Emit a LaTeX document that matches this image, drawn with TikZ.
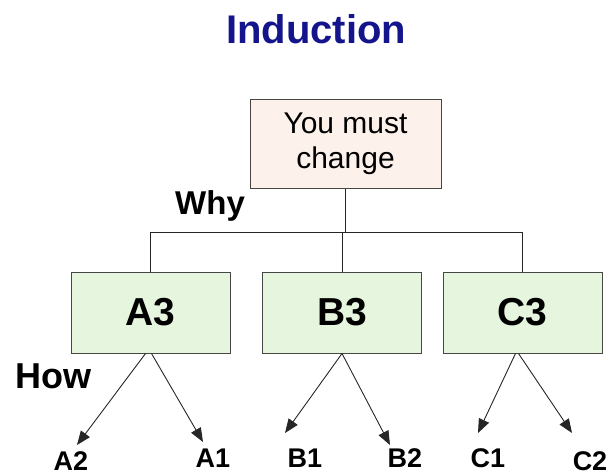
\documentclass[tikz,border=0pt]{standalone}
\usepackage{fontspec}
\setmainfont{Liberation Sans}
\usetikzlibrary{arrows.meta}
\definecolor{titleblue}{RGB}{20,20,140}
\definecolor{topfill}{RGB}{253,241,236}
\definecolor{boxfill}{RGB}{230,245,222}
\definecolor{edgegray}{RGB}{70,70,70}
\tikzset{
  topbox/.style={draw=edgegray, line width=1pt, fill=topfill, minimum width=191pt, minimum height=89pt, inner sep=0pt, align=center, font=\fontsize{30}{35}\selectfont},
  midbox/.style={draw=edgegray, line width=1pt, fill=boxfill, minimum width=159pt, minimum height=81pt, inner sep=0pt, font=\fontsize{39}{44}\selectfont\bfseries},
  leaf/.style={anchor=base, inner sep=0pt, font=\fontsize{27}{30}\selectfont\bfseries},
  link/.style={draw=black!85, line width=0.9pt},
  arr/.style={link, -{Triangle[length=14pt, width=11pt]}}
}
\begin{document}
\begin{tikzpicture}[x=1pt, y=-1pt]
\useasboundingbox (0,0) rectangle (610,475);
\node[anchor=base, inner sep=0pt, text=titleblue, font=\fontsize{40}{44}\selectfont\bfseries] (title) at (316,43) {Induction};
\node[topbox] (top) at (345.5,143.5) {You must\\change};
\node[anchor=base west, inner sep=0pt, font=\fontsize{33}{36}\selectfont\bfseries] (why) at (175,214) {Why};
\node[midbox] (A3) at (150.5,312.5) {A3};
\node[midbox] (B3) at (342,312.5) {B3};
\node[midbox] (C3) at (522.5,312.5) {C3};
\coordinate (hl) at (150.5,232);
\coordinate (hm) at (345.5,232);
\coordinate (hr) at (522.5,232);
\draw[link] (top.south) -- (hm);
\draw[link] (A3.north) -- (hl) -- (hr) -- (C3.north);
\draw[link] (B3.north) -- (B3.north |- hm);
\node[anchor=base west, inner sep=0pt, font=\fontsize{36}{38}\selectfont\bfseries] (how) at (15,388) {How};
\node[leaf] (A2) at (71,470) {A2};
\node[leaf] (A1) at (213,467) {A1};
\node[leaf] (B1) at (305,467) {B1};
\node[leaf] (B2) at (405,467) {B2};
\node[leaf] (C1) at (488,467) {C1};
\node[leaf] (C2) at (590,470) {C2};
\coordinate (a2t) at (77,445);
\coordinate (a1t) at (203,442);
\coordinate (b1t) at (285,433);
\coordinate (b2t) at (390,445);
\coordinate (c1t) at (478,433);
\coordinate (c2t) at (572,433);
\draw[arr] ([xshift=-5pt]A3.south) -- (a2t);
\draw[arr] ([xshift=1pt]A3.south) -- (a1t);
\draw[arr] (B3.south) -- (b1t);
\draw[arr] (B3.south) -- (b2t);
\draw[arr] ([xshift=-7pt]C3.south) -- (c1t);
\draw[arr] ([xshift=-4pt]C3.south) -- (c2t);
\end{tikzpicture}
\end{document}
